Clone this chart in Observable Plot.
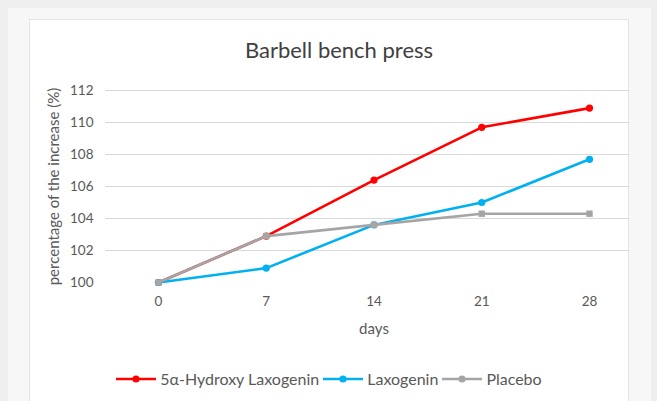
<!DOCTYPE html>
<html>
<head>
<meta charset="utf-8">
<script src="https://cdn.jsdelivr.net/npm/d3@7"></script>
<script src="https://cdn.jsdelivr.net/npm/@observablehq/plot@0.6"></script>
<style>
  html, body { margin: 0; padding: 0; background: #efefef; }
  #wrap { position: relative; width: 657px; height: 401px; background: #efefef; overflow: hidden; font-family: Lato, "Open Sans", sans-serif; }
  #panel { position: absolute; left: 8px; top: 8px; width: 643px; height: 400px; background: #f7f7f7; }
  #box { position: absolute; left: 29px; top: 19px; width: 600px; height: 390px; background: #fff; border: 1px solid #e3e3e3; box-sizing: border-box; }
  #title { position: absolute; left: 49px; width: 580px; top: 36px; text-align: center; font-size: 22px; color: #404040; }
  #chart { position: absolute; left: 29px; top: 60px; }
  #legend { position: absolute; left: 29px; width: 600px; top: 369px; display: flex; justify-content: center; align-items: center; font-size: 16px; color: #595959; }
  .item { display: flex; align-items: center; margin: 0 2px; }
  .item svg { margin-right: 4px; }
</style>
</head>
<body>
<div id="wrap">
  <div id="panel"></div>
  <div id="box"></div>
  <div id="title">Barbell bench press</div>
  <div id="chart"></div>
  <div id="legend"></div>
</div>
<script>
const days = [0, 7, 14, 21, 28];
const seriesNames = ["5α-Hydroxy Laxogenin", "Laxogenin", "Placebo"];
const seriesColors = ["#ff0000", "#00b0f0", "#a5a5a5"];
const hydroxy = [100, 102.9, 106.4, 109.7, 110.9];
const laxogenin = [100, 100.9, 103.6, 105.0, 107.7];
const placebo = [100, 102.9, 103.6, 104.3, 104.3];
const yTicks = [100, 102, 104, 106, 108, 110, 112];
const xLabel = "days";
const yLabel = "percentage of the increase (%)";

const seriesValues = [hydroxy, laxogenin, placebo];
const rows = seriesNames.map((name, s) => days.map((d, i) => ({series: name, day: d, value: seriesValues[s][i]})));

const marks = [
  Plot.ruleY(yTicks.filter(t => t > yTicks[0]), {stroke: "#d9d9d9", strokeWidth: 1}),
  Plot.axisY({ticks: yTicks, tickSize: 0, tickPadding: 12, label: null, tickFormat: d => String(d), fontSize: 13.5}),
  Plot.axisX({ticks: days, tickSize: 0, tickPadding: 14, label: null, tickFormat: d => String(d), fontSize: 13.5}),
  Plot.text([xLabel], {x: () => d3.mean(days), frameAnchor: "bottom", dy: 51, text: d => d, fontSize: 15, fill: "#595959"}),
  Plot.text([yLabel], {frameAnchor: "left", textAnchor: "middle", rotate: -90, dx: -51, text: d => d, fontSize: 15, fill: "#595959"})
];
rows.forEach((r, s) => {
  marks.push(Plot.line(r, {x: "day", y: "value", stroke: seriesColors[s], strokeWidth: 2.6, strokeLinejoin: "round"}));
  marks.push(Plot.dot(r, {x: "day", y: "value", fill: seriesColors[s], r: 3.6, symbol: s === 2 ? "square" : "circle"}));
});

const chart = Plot.plot({
  width: 600,
  height: 300,
  marginLeft: 76,
  marginRight: 0,
  marginTop: 30,
  marginBottom: 78,
  x: {domain: [0, 28], range: [129, 560]},
  y: {domain: [100, 112]},
  style: {fontFamily: "Lato, 'Open Sans', sans-serif", fontSize: "13px", color: "#595959", background: "transparent"},
  marks
});
document.getElementById("chart").appendChild(chart);

const legend = document.getElementById("legend");
seriesNames.forEach((name, s) => {
  const item = document.createElement("div");
  item.className = "item";
  item.innerHTML = `<svg width="40" height="10"><line x1="0" x2="40" y1="5" y2="5" stroke="${seriesColors[s]}" stroke-width="2.6"/><circle cx="20" cy="5" r="3.6" fill="${seriesColors[s]}"/></svg><span>${name}</span>`;
  legend.appendChild(item);
});
</script>
</body>
</html>
